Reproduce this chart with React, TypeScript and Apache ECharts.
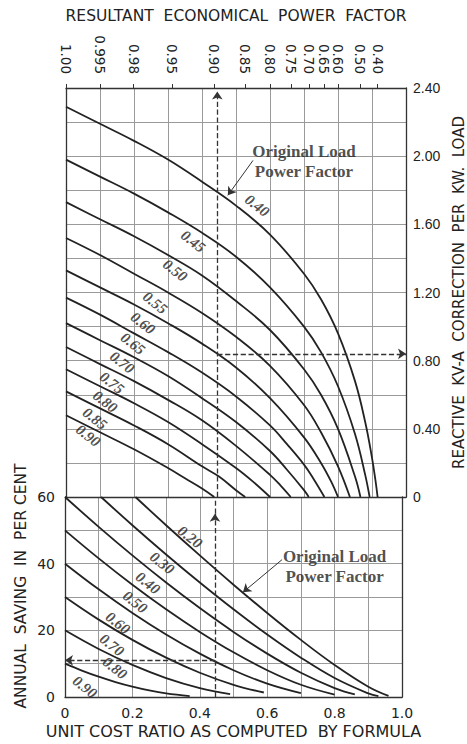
import React, { useEffect, useRef } from 'react';
import * as echarts from 'echarts';

// ---------- Upper panel: reactive kV-A correction per kW load ----------
const topCurveNames = ['0.40', '0.45', '0.50', '0.55', '0.60', '0.65', '0.70', '0.75', '0.80', '0.85', '0.90'];
const top40 = [[0, 2.29], [0.1, 2.19], [0.2, 2.09], [0.3, 1.98], [0.4, 1.85], [0.5, 1.71], [0.6, 1.54], [0.7, 1.31], [0.75, 1.16], [0.8, 0.96], [0.85, 0.68], [0.88, 0.44], [0.9, 0.23], [0.91, 0.1], [0.9165, 0]];
const top45 = [[0, 1.98], [0.1, 1.88], [0.2, 1.78], [0.3, 1.67], [0.4, 1.55], [0.5, 1.41], [0.6, 1.23], [0.7, 1.0], [0.75, 0.85], [0.8, 0.65], [0.85, 0.37], [0.88, 0.13], [0.893, 0]];
const top50 = [[0, 1.73], [0.1, 1.63], [0.2, 1.53], [0.3, 1.42], [0.4, 1.3], [0.5, 1.15], [0.6, 0.98], [0.7, 0.75], [0.75, 0.6], [0.8, 0.4], [0.85, 0.12], [0.866, 0]];
const top55 = [[0, 1.52], [0.1, 1.42], [0.2, 1.31], [0.3, 1.2], [0.4, 1.08], [0.5, 0.94], [0.6, 0.77], [0.7, 0.54], [0.75, 0.38], [0.8, 0.18], [0.835, 0]];
const top60 = [[0, 1.33], [0.1, 1.23], [0.2, 1.13], [0.3, 1.02], [0.4, 0.9], [0.5, 0.76], [0.6, 0.58], [0.7, 0.35], [0.75, 0.2], [0.78, 0.09], [0.8, 0]];
const top65 = [[0, 1.17], [0.1, 1.07], [0.2, 0.96], [0.3, 0.85], [0.4, 0.73], [0.5, 0.59], [0.6, 0.42], [0.65, 0.31], [0.7, 0.19], [0.73, 0.1], [0.76, 0]];
const top70 = [[0, 1.02], [0.1, 0.92], [0.2, 0.82], [0.3, 0.71], [0.4, 0.58], [0.5, 0.44], [0.6, 0.27], [0.65, 0.16], [0.7, 0.04], [0.714, 0]];
const top75 = [[0, 0.88], [0.1, 0.78], [0.2, 0.68], [0.3, 0.57], [0.4, 0.45], [0.5, 0.3], [0.6, 0.13], [0.63, 0.07], [0.661, 0]];
const top80 = [[0, 0.75], [0.1, 0.65], [0.2, 0.55], [0.3, 0.44], [0.4, 0.31], [0.5, 0.17], [0.55, 0.09], [0.6, 0]];
const top85 = [[0, 0.62], [0.1, 0.52], [0.2, 0.42], [0.3, 0.31], [0.4, 0.18], [0.45, 0.12], [0.5, 0.04], [0.527, 0]];
const top90 = [[0, 0.48], [0.1, 0.38], [0.2, 0.28], [0.3, 0.17], [0.35, 0.11], [0.4, 0.05], [0.436, 0]];
const topCurves = [top40, top45, top50, top55, top60, top65, top70, top75, top80, top85, top90];
// where each curve's label sits (x, kV-A)
const topLabelPos = [[0.562, 1.71], [0.374, 1.5], [0.321, 1.33], [0.262, 1.14], [0.226, 1.02], [0.197, 0.9], [0.165, 0.79], [0.135, 0.67], [0.115, 0.56], [0.085, 0.46], [0.065, 0.36]];

// resultant economical power factor ticks on the upper scale
const pfTickLabels = ['1.00', '0.995', '0.98', '0.95', '0.90', '0.85', '0.80', '0.75', '0.70', '0.65', '0.60', '0.50', '0.40'];

// ---------- Lower panel: annual saving in per cent ----------
const bottomCurveNames = ['0.20', '0.30', '0.40', '0.50', '0.60', '0.70', '0.80', '0.90'];
const bot20 = [[0.209, 60], [0.3, 51.53], [0.4, 42.48], [0.5, 33.69], [0.6, 25.21], [0.7, 17.13], [0.8, 9.62], [0.9, 3.1], [0.96, 0.34]];
const bot30 = [[0.107, 60], [0.2, 51.53], [0.3, 42.76], [0.4, 34.35], [0.5, 26.32], [0.6, 18.76], [0.7, 11.8], [0.8, 5.69], [0.9, 1.07], [0.93, 0.26]];
const bot40 = [[0, 60], [0.1, 51.04], [0.2, 42.48], [0.3, 34.35], [0.4, 26.68], [0.5, 19.53], [0.6, 13.01], [0.7, 7.28], [0.8, 2.68], [0.86, 0.77]];
const bot50 = [[0, 50], [0.1, 41.59], [0.2, 33.69], [0.3, 26.32], [0.4, 19.53], [0.5, 13.4], [0.6, 8.04], [0.7, 3.67], [0.8, 0.72]];
const bot60 = [[0, 40], [0.1, 32.3], [0.2, 25.21], [0.3, 18.76], [0.4, 13.01], [0.5, 8.04], [0.6, 4.0], [0.7, 1.15]];
const bot70 = [[0, 30], [0.1, 23.21], [0.2, 17.13], [0.3, 11.8], [0.4, 7.28], [0.5, 3.67], [0.59, 1.35]];
const bot80 = [[0, 20], [0.1, 14.4], [0.2, 9.62], [0.3, 5.69], [0.4, 2.68], [0.49, 0.86]];
const bot90 = [[0, 10], [0.05, 7.93], [0.1, 6.09], [0.15, 4.48], [0.2, 3.1], [0.25, 1.96], [0.3, 1.07], [0.37, 0.26]];
const bottomCurves = [bot20, bot30, bot40, bot50, bot60, bot70, bot80, bot90];
const bottomLabelPos = [[0.371, 48.0], [0.288, 40.2], [0.246, 34.2], [0.208, 28.5], [0.157, 22.2], [0.139, 15.6], [0.148, 8.7], [0.059, 3.0]];

// worked example (dashed construction lines)
const exCostRatio = 0.445;
const exKva = 0.84;
const exSaving = 11;

// "Original Load Power Factor" call-outs: text centre, leader start and arrow tip
const topNote = { text: [0.70, 1.97], from: [0.55, 1.975], to: [0.476, 1.77] };
const bottomNote = { text: [0.80, 39.1], from: [0.644, 41.2], to: [0.528, 31.4] };

const INK = '#222';
const GRID = '#9a9a9a';
const FRAME = '#333';
const SANS = 'DejaVu Sans';
const NUM = 'Liberation Sans';
const SERIF = 'Liberation Serif';

export default function App() {
  const ref = useRef<HTMLDivElement>(null);

  useEffect(() => {
    const chart = echarts.init(ref.current!, null, { renderer: 'svg' });
    const pfPos = pfTickLabels.map((p) => Math.sqrt(1 - Number(p) * Number(p)));
    const pfFormatter = (v: number) => {
      let best = 0;
      pfPos.forEach((p, i) => {
        if (Math.abs(p - v) < Math.abs(pfPos[best] - v)) best = i;
      });
      return pfTickLabels[best];
    };

    const curveLabelStyle = {
      show: true,
      position: 'inside',
      rotate: -38,
      fontFamily: SERIF,
      fontStyle: 'italic',
      fontWeight: 'bold',
      fontSize: 15,
      color: INK,
      formatter: (p: any) => p.data[2],
    };
    const noteLabel = {
      show: true,
      position: 'inside',
      fontFamily: SERIF,
      fontWeight: 'bold',
      fontSize: 17,
      lineHeight: 20,
      color: INK,
      formatter: 'Original Load\nPower Factor',
    };
    const dashed = { type: 'dashed', color: '#333', width: 1.3 };
    const leader = { type: 'solid', color: '#333', width: 1 };
    const invisible = { color: 'rgba(0,0,0,0)' };

    const series: any[] = [];
    topCurves.forEach((d, i) => {
      series.push({
        type: 'line', name: 'top ' + topCurveNames[i], xAxisIndex: 0, yAxisIndex: 0,
        data: d, smooth: 0.4, showSymbol: false, silent: true, z: 3,
        lineStyle: { color: INK, width: 1.8 },
      });
    });
    bottomCurves.forEach((d, i) => {
      series.push({
        type: 'line', name: 'bottom ' + bottomCurveNames[i], xAxisIndex: 2, yAxisIndex: 2,
        data: d, smooth: 0.4, showSymbol: false, silent: true, z: 3,
        lineStyle: { color: INK, width: 1.8 },
      });
    });
    series.push({
      type: 'scatter', xAxisIndex: 0, yAxisIndex: 0, symbolSize: 1, itemStyle: invisible, z: 5,
      data: topLabelPos.map((p, i) => [p[0], p[1], topCurveNames[i]]),
      label: curveLabelStyle, silent: true,
    });
    series.push({
      type: 'scatter', xAxisIndex: 2, yAxisIndex: 2, symbolSize: 1, itemStyle: invisible, z: 5,
      data: bottomLabelPos.map((p, i) => [p[0], p[1], bottomCurveNames[i]]),
      label: curveLabelStyle, silent: true,
    });
    series.push({
      type: 'scatter', xAxisIndex: 0, yAxisIndex: 0, symbolSize: 1, itemStyle: invisible, z: 5,
      data: [topNote.text], label: noteLabel, silent: true,
    });
    series.push({
      type: 'scatter', xAxisIndex: 2, yAxisIndex: 2, symbolSize: 1, itemStyle: invisible, z: 5,
      data: [bottomNote.text], label: noteLabel, silent: true,
    });
    // construction lines & leaders, upper panel
    series.push({
      type: 'line', xAxisIndex: 0, yAxisIndex: 0, data: [[exCostRatio, 0]], showSymbol: false,
      lineStyle: { opacity: 0 }, silent: true,
      markLine: {
        silent: true, animation: false, symbol: ['none', 'arrow'], symbolSize: 8,
        label: { show: false }, emphasis: { disabled: true },
        data: [
          [{ coord: [exCostRatio, 0], lineStyle: dashed }, { coord: [exCostRatio, 2.38] }],
          [{ coord: [exCostRatio, exKva], lineStyle: dashed }, { coord: [1, exKva] }],
          [{ coord: topNote.from, lineStyle: leader, symbolSize: 7 }, { coord: topNote.to }],
        ],
      },
    });
    // construction lines & leaders, lower panel
    series.push({
      type: 'line', xAxisIndex: 2, yAxisIndex: 2, data: [[exCostRatio, 0]], showSymbol: false,
      lineStyle: { opacity: 0 }, silent: true,
      markLine: {
        silent: true, animation: false, symbol: ['none', 'arrow'], symbolSize: 8,
        label: { show: false }, emphasis: { disabled: true },
        data: [
          [{ coord: [exCostRatio, 0], lineStyle: dashed }, { coord: [exCostRatio, 55] }],
          [{ coord: [exCostRatio, 55], lineStyle: dashed, symbol: 'none' }, { coord: [exCostRatio, 60], symbol: 'none' }],
          [{ coord: [exCostRatio, exSaving], lineStyle: dashed }, { coord: [0, exSaving] }],
          [{ coord: bottomNote.from, lineStyle: leader }, { coord: bottomNote.to }],
        ],
      },
    });

    const frameLine = { show: true, onZero: false, lineStyle: { color: FRAME, width: 1.3 } };
    const gridLines = { show: true, lineStyle: { color: GRID, width: 1, type: 'solid' } };
    const option: any = {
      animation: false,
      backgroundColor: '#fff',
      textStyle: { fontFamily: SANS, color: INK },
      grid: [
        { left: 66, top: 88, width: 340, height: 409, outerBoundsMode: 'none', containLabel: false },
        { left: 65, top: 497, width: 337, height: 200, outerBoundsMode: 'none', containLabel: false },
      ],
      xAxis: [
        {
          type: 'value', gridIndex: 0, position: 'bottom', min: 0, max: 1, interval: 0.1,
          axisLine: frameLine, axisTick: { show: false }, axisLabel: { show: false },
          splitLine: gridLines,
        },
        {
          type: 'value', gridIndex: 0, position: 'top', min: 0, max: 1, interval: 0.1,
          name: 'RESULTANT  ECONOMICAL  POWER  FACTOR', nameLocation: 'middle', nameGap: 64, nameMoveOverlap: false,
          nameTextStyle: { fontFamily: SANS, fontSize: 15.5, color: INK },
          axisLine: frameLine, splitLine: { show: false },
          axisTick: { show: true, customValues: pfPos, length: 4, lineStyle: { color: FRAME } },
          axisLabel: {
            show: true, customValues: pfPos, rotate: 90, margin: 14,
            fontFamily: SANS, fontSize: 13.5, color: INK, formatter: pfFormatter,
          },
        },
        {
          type: 'value', gridIndex: 1, position: 'bottom', min: 0, max: 1, interval: 0.1,
          name: 'UNIT COST RATIO AS COMPUTED  BY FORMULA', nameLocation: 'middle', nameGap: 26, nameMoveOverlap: false,
          nameTextStyle: { fontFamily: SANS, fontSize: 16, color: INK },
          axisLine: frameLine, axisTick: { show: false },
          axisLabel: {
            margin: 9, fontFamily: SANS, fontSize: 14, color: INK,
            showMinLabel: true, showMaxLabel: true,
            formatter: (v: number) => {
              const r = Math.round(v * 10);
              if (r % 2) return '';
              return r === 0 ? '0' : v.toFixed(1);
            },
          },
          splitLine: gridLines,
        },
      ],
      yAxis: [
        {
          type: 'value', gridIndex: 0, position: 'right', min: 0, max: 2.4, interval: 0.2,
          name: 'REACTIVE  KV-A  CORRECTION  PER  KW.  LOAD', nameLocation: 'middle', nameGap: 45, nameRotate: 90, nameMoveOverlap: false,
          nameTextStyle: { fontFamily: SANS, fontSize: 15, color: INK },
          axisLine: frameLine, axisTick: { show: false },
          axisLabel: {
            margin: 7, fontFamily: NUM, fontSize: 14, color: INK,
            showMinLabel: true, showMaxLabel: true,
            formatter: (v: number) => {
              const r = Math.round(v * 10);
              if (r % 4) return '';
              return r === 0 ? '0' : v.toFixed(2);
            },
          },
          splitLine: gridLines,
        },
        {
          type: 'value', gridIndex: 0, position: 'left', min: 0, max: 2.4, interval: 0.2,
          axisLine: frameLine, axisTick: { show: false }, axisLabel: { show: false }, splitLine: { show: false },
        },
        {
          type: 'value', gridIndex: 1, position: 'left', min: 0, max: 60, interval: 10,
          name: 'ANNUAL  SAVING  IN  PER CENT', nameLocation: 'middle', nameGap: 36, nameRotate: 90, nameMoveOverlap: false,
          nameTextStyle: { fontFamily: SANS, fontSize: 15.5, color: INK, padding: [0, 0, 0, 22] },
          axisLine: frameLine, axisTick: { show: false },
          axisLabel: {
            margin: 10, fontFamily: SANS, fontSize: 14, color: INK,
            showMinLabel: true, showMaxLabel: true,
            formatter: (v: number) => (Math.round(v) % 20 === 0 ? String(Math.round(v)) : ''),
          },
          splitLine: gridLines,
        },
        {
          type: 'value', gridIndex: 1, position: 'right', min: 0, max: 60, interval: 10,
          axisLine: frameLine, axisTick: { show: false }, axisLabel: { show: false }, splitLine: { show: false },
        },
      ],
      series,
    };
    chart.setOption(option);
    return () => chart.dispose();
  }, []);

  return <div ref={ref} style={{ position: 'absolute', left: 0, top: 0, width: 467, height: 744 }} />;
}
